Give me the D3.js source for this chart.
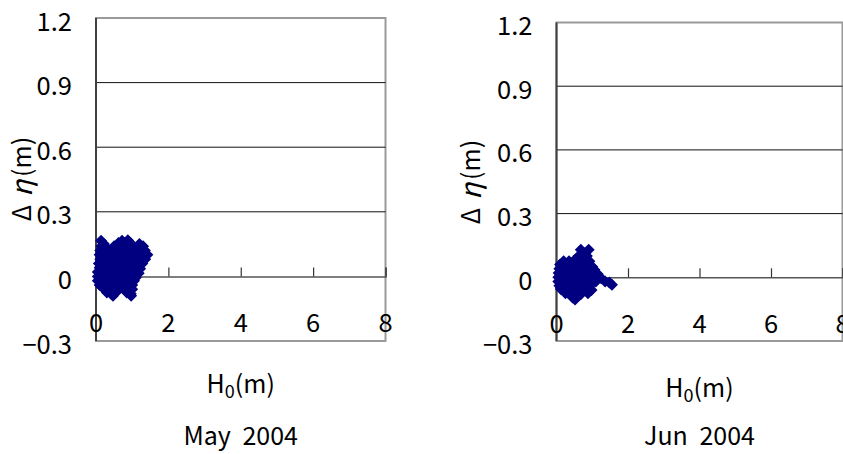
<!DOCTYPE html>
<html>
<head>
<meta charset="utf-8">
<script src="https://cdn.jsdelivr.net/npm/d3@7"></script>
<style>
  body { margin: 0; background: #fff; }
  svg text { font-family: "Noto Sans CJK JP", "Noto Sans", sans-serif; fill: #000; }
</style>
</head>
<body>
<svg id="chart" width="843" height="454"></svg>
<script>
// tick values shared by both panels
const yTicks = [-0.3, 0, 0.3, 0.6, 0.9, 1.2];
const xTicks = [0, 2, 4, 6, 8];
const gridTicks = [0.3, 0.6, 0.9];

// May 2004: [H0 (m), delta eta (m)]
const mayPoints = [
  [0.14, 0.165], [0.72, 0.165], [0.88, 0.168],
  [0.22, 0.15], [0.62, 0.155], [0.8, 0.155], [0.95, 0.155], [1.2, 0.15],
  [0.15, 0.14], [0.3, 0.13], [0.5, 0.14], [0.7, 0.14], [0.85, 0.14], [1.0, 0.135], [1.3, 0.14],
  [0.12, 0.12], [0.28, 0.12], [0.45, 0.12], [0.6, 0.12], [0.75, 0.12], [0.9, 0.12], [1.15, 0.12], [1.35, 0.12],
  [0.1, 0.1], [0.22, 0.1], [0.38, 0.1], [0.52, 0.1], [0.68, 0.1], [0.82, 0.1], [0.98, 0.1], [1.12, 0.1], [1.28, 0.1], [1.42, 0.1],
  [0.12, 0.08], [0.3, 0.08], [0.45, 0.08], [0.6, 0.08], [0.75, 0.08], [0.9, 0.08], [1.05, 0.08], [1.2, 0.08], [1.36, 0.08],
  [0.08, 0.06], [0.2, 0.06], [0.35, 0.06], [0.5, 0.06], [0.65, 0.06], [0.8, 0.06], [0.95, 0.06], [1.1, 0.06], [1.28, 0.06],
  [0.1, 0.04], [0.25, 0.04], [0.4, 0.04], [0.55, 0.04], [0.7, 0.04], [0.85, 0.04], [1.0, 0.04], [1.15, 0.04], [1.22, 0.035],
  [0.05, 0.02], [0.18, 0.02], [0.32, 0.02], [0.48, 0.02], [0.62, 0.02], [0.78, 0.02], [0.92, 0.02], [1.08, 0.02], [1.18, 0.015],
  [0.05, 0], [0.12, 0], [0.28, 0], [0.42, 0], [0.58, 0], [0.72, 0], [0.88, 0], [1.02, 0], [1.1, -0.005],
  [0.05, -0.02], [0.2, -0.02], [0.35, -0.02], [0.5, -0.02], [0.65, -0.02], [0.8, -0.02], [0.95, -0.02], [1.05, -0.02],
  [0.1, -0.04], [0.25, -0.04], [0.4, -0.04], [0.55, -0.04], [0.7, -0.04], [0.85, -0.04], [1.0, -0.04],
  [0.2, -0.055], [0.35, -0.06], [0.5, -0.06], [0.62, -0.06], [0.78, -0.06], [0.92, -0.06], [1.0, -0.06],
  [0.3, -0.075], [0.42, -0.08], [0.55, -0.075], [0.85, -0.075], [0.96, -0.08],
  [0.47, -0.09], [0.97, -0.09]
];

// Jun 2004: [H0 (m), delta eta (m)]
const junPoints = [
  [0.68, 0.13], [0.9, 0.13],
  [0.8, 0.115],
  [0.62, 0.1], [0.85, 0.1],
  [0.2, 0.075], [0.35, 0.075], [0.5, 0.08], [0.72, 0.08], [0.92, 0.075],
  [0.1, 0.06], [0.25, 0.06], [0.4, 0.06], [0.55, 0.06], [0.7, 0.06], [0.85, 0.06], [1.0, 0.05],
  [0.08, 0.04], [0.2, 0.04], [0.35, 0.04], [0.5, 0.04], [0.65, 0.04], [0.8, 0.04], [0.95, 0.04], [1.06, 0.035],
  [0.06, 0.02], [0.18, 0.02], [0.3, 0.02], [0.45, 0.02], [0.6, 0.02], [0.75, 0.02], [0.9, 0.02], [1.05, 0.02], [1.15, 0.015],
  [0.05, 0], [0.15, 0], [0.28, 0], [0.42, 0], [0.55, 0], [0.7, 0], [0.85, 0], [1.0, 0], [1.15, 0], [1.25, -0.005],
  [0.05, -0.02], [0.18, -0.02], [0.32, -0.02], [0.48, -0.02], [0.62, -0.02], [0.78, -0.02], [0.92, -0.02], [1.1, -0.02], [1.36, -0.02], [1.48, -0.025],
  [1.55, -0.035],
  [0.08, -0.04], [0.2, -0.04], [0.35, -0.04], [0.5, -0.04], [0.65, -0.04], [0.8, -0.04], [0.93, -0.04],
  [0.12, -0.055], [0.28, -0.06], [0.42, -0.06], [0.58, -0.06], [0.72, -0.06], [0.86, -0.06], [0.98, -0.06],
  [0.25, -0.075], [0.4, -0.08], [0.55, -0.08], [0.68, -0.08], [0.88, -0.075],
  [0.45, -0.095], [0.55, -0.095],
  [0.52, -0.105]
];

const svg = d3.select("#chart");

function drawPanel(points, month, box) {
    const x = d3.scaleLinear().domain([0, 8]).range([box.left, box.right]);
    const y = d3.scaleLinear().domain([-0.3, 1.2]).range([box.bottom, box.top]);
    const g = svg.append("g");

    // plot frame
    g.append("rect")
        .attr("x", box.left).attr("y", box.top)
        .attr("width", box.right - box.left).attr("height", box.bottom - box.top)
        .attr("fill", "none").attr("stroke", "#9a9a9a").attr("stroke-width", 2);

    g.selectAll(".grid").data(gridTicks).join("line")
        .attr("x1", box.left).attr("x2", box.right)
        .attr("y1", d => y(d)).attr("y2", d => y(d))
        .attr("stroke", "#111").attr("stroke-width", 1);

    // y axis line (left side of frame)
    g.append("line")
        .attr("x1", box.left).attr("x2", box.left)
        .attr("y1", box.top).attr("y2", box.bottom)
        .attr("stroke", "#404040").attr("stroke-width", 2);

    g.selectAll(".ylab").data(yTicks).join("text")
        .attr("x", box.left - 24)
        .attr("y", d => y(d) + 1)
        .attr("text-anchor", "end")
        .attr("dominant-baseline", "central")
        .style("font-size", "25.5px")
        .text(d => d < 0 ? "\u2212" + Math.abs(d) : d);

    // x axis crossing at zero, ticks pointing up
    const xAxis = d3.axisTop(x).tickValues(xTicks).tickSize(9).tickFormat("");
    const ax = g.append("g")
        .attr("transform", `translate(0,${y(0)})`)
        .call(xAxis);
    ax.select(".domain").attr("stroke", "#555").attr("stroke-width", 1.5);
    ax.selectAll(".tick line").attr("stroke", "#333").attr("stroke-width", 1.2);

    g.selectAll(".xlab").data(xTicks).join("text")
        .attr("x", d => x(d))
        .attr("y", y(0) + 44)
        .attr("text-anchor", "middle")
        .attr("dominant-baseline", "central")
        .style("font-size", "25.5px")
        .text(d => d);

    const diamond = d3.symbol().type(d3.symbolSquare).size(72);
    g.selectAll(".pt").data(points).join("path")
        .attr("d", diamond)
        .attr("transform", d => `translate(${x(d[0])},${y(d[1])}) rotate(45)`)
        .attr("fill", "#000080");

    // axis titles
    const yt = g.append("text")
        .attr("transform", `translate(${box.yTitleX},${box.yTitleY}) rotate(-90)`)
        .attr("text-anchor", "middle")
        .attr("dominant-baseline", "central")
        .style("font-size", "25px");
    yt.append("tspan").text("\u0394");
    yt.append("tspan").attr("dx", 8).style("font-style", "italic").style("font-size", "28px").text("\u03B7");
    yt.append("tspan").attr("dx", 3).text("(m)");

    const xt = g.append("text")
        .attr("x", (box.left + box.right) / 2)
        .attr("y", box.xTitleY)
        .attr("text-anchor", "middle")
        .style("font-size", "25px");
    xt.append("tspan").text("H");
    xt.append("tspan").attr("dy", 5).style("font-size", "18px").text("0");
    xt.append("tspan").attr("dy", -5).text("(m)");

    g.append("text")
        .attr("x", (box.left + box.right) / 2)
        .attr("y", 445)
        .attr("text-anchor", "middle")
        .style("font-size", "25px")
        .style("word-spacing", "6px")
        .text(month);
}

drawPanel(mayPoints, "May 2004",
    { left: 96, right: 385.5, top: 18, bottom: 341, yTitleX: 20, yTitleY: 179, xTitleY: 393 });
drawPanel(junPoints, "Jun 2004",
    { left: 556.5, right: 842.5, top: 22.5, bottom: 341, yTitleX: 469, yTitleY: 182, xTitleY: 396.5 });
</script>
</body>
</html>
